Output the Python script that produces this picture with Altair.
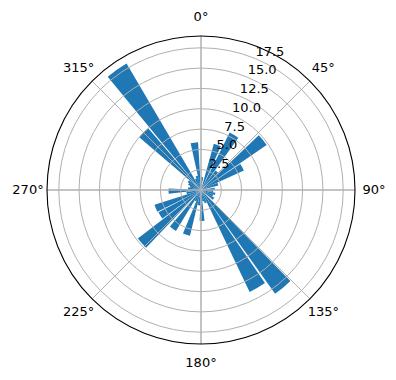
import math
import altair as alt
import pandas as pd

# ---- data (angle of bar centre in degrees, bar length) ----
bar_angles = [352, 20, 31, 41, 51, 61, 71, 140, 150, 178, 198, 216, 228, 238, 248, 268, 315, 325,
              5, 85, 95, 105, 115, 125, 160, 168, 188, 207, 258, 278, 287, 296, 305, 335, 343]
bar_values = [5.9, 5.9, 7.9, 3.0, 9.8, 5.8, 2.2, 15.7, 13.9, 3.8, 5.8, 5.9, 9.8, 5.9, 6.0, 4.0, 10.0, 18.05,
              1.6, 1.7, 1.5, 1.8, 1.6, 1.9, 1.7, 1.4, 1.9, 1.5, 1.8, 1.6, 1.4, 1.7, 1.9, 1.5, 1.8]
bar_width_deg = 9.0

r_ticks = [2.5, 5.0, 7.5, 10.0, 12.5, 15.0, 17.5]
r_tick_labels = ["2.5", "5.0", "7.5", "10.0", "12.5", "15.0", "17.5"]
r_max = 18.95
theta_ticks = [0, 45, 90, 135, 180, 225, 270, 315]
theta_labels = ["0°", "45°", "90°", "135°", "180°", "225°", "270°", "315°"]

R_PX = 154
FONT = "DejaVu Sans"

bars = pd.DataFrame({
    "start": [a - bar_width_deg / 2 for a in bar_angles],
    "end": [a + bar_width_deg / 2 for a in bar_angles],
    "r": bar_values,
})
rings = pd.DataFrame({"start": [0.0] * len(r_ticks), "end": [360.0] * len(r_ticks), "r": r_ticks})
outer = pd.DataFrame({"start": [0.0], "end": [360.0], "r": [r_max]})
spokes = pd.DataFrame({"start": theta_ticks, "end": theta_ticks, "r": [r_max] * len(theta_ticks)})
tlabels = pd.DataFrame({"a": theta_ticks, "t": theta_labels})
rlabels = pd.DataFrame({"a": [22.5] * len(r_ticks), "r": r_ticks, "t": r_tick_labels})

tscale = alt.Scale(domain=[0, 360], range=[0, 2 * math.pi], nice=False, zero=False)
rscale = alt.Scale(type="linear", domain=[0, r_max], range=[0, R_PX], nice=False, zero=True)


def polar(chart):
    return chart.encode(
        theta=alt.Theta("start:Q", scale=tscale, stack=None),
        theta2="end:Q",
        radius=alt.Radius("r:Q", scale=rscale),
    )


bar_layer = polar(alt.Chart(bars).mark_arc(color="#1f77b4"))
ring_layer = polar(alt.Chart(rings).mark_arc(fillOpacity=0, stroke="#b0b0b0", strokeWidth=1))
spoke_layer = polar(alt.Chart(spokes).mark_arc(fillOpacity=0, stroke="#b0b0b0", strokeWidth=1))
outer_layer = polar(alt.Chart(outer).mark_arc(fillOpacity=0, stroke="black", strokeWidth=1.1))

tlabel_layer = alt.Chart(tlabels).mark_text(
    font=FONT, fontSize=13, color="black", align="center", baseline="middle", radius=173
).encode(
    theta=alt.Theta("a:Q", scale=tscale, stack=None),
    text="t:N",
)

rlabel_layer = alt.Chart(rlabels).mark_text(
    font=FONT, fontSize=13, color="black", align="left", baseline="bottom"
).encode(
    theta=alt.Theta("a:Q", scale=tscale, stack=None),
    radius=alt.Radius("r:Q", scale=rscale),
    text="t:N",
)

chart = alt.layer(
    bar_layer, ring_layer, spoke_layer, outer_layer, rlabel_layer, tlabel_layer
).properties(
    width=390,
    height=380,
    padding={"left": 6, "top": 0, "right": 0, "bottom": 0},
    autosize=alt.AutoSizeParams(type="none"),
    background="white",
).configure_view(strokeWidth=0)

chart.save("out.html", embed_options={"renderer": "svg", "actions": False})
